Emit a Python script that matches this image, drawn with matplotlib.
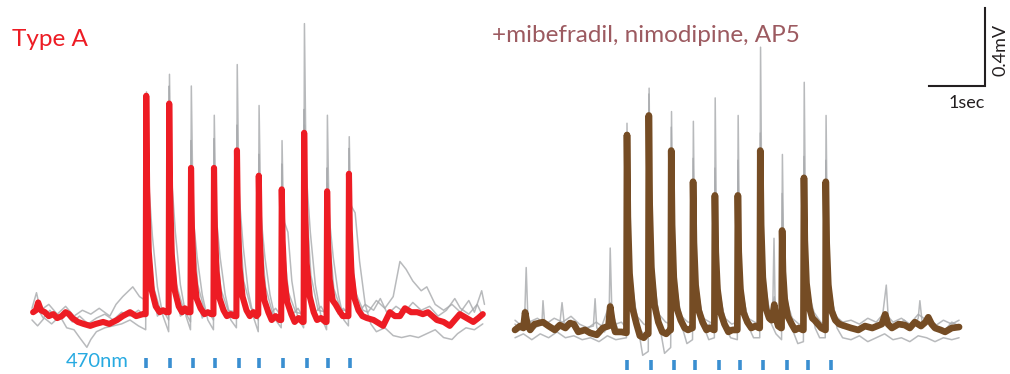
import matplotlib.pyplot as plt

# 470nm light pulses (s from start of each sweep)
STIM_LEFT = [2.04, 2.46, 2.88, 3.27, 3.70, 4.05, 4.48, 4.91, 5.29, 5.68]
STIM_RIGHT = [2.00, 2.43, 2.84, 3.21, 3.64, 4.02, 4.43, 4.86, 5.23, 5.64]

# Type A, mean trace (time s, mV)
TYPE_A_MEAN = [
    (0.02, 0.04), (0.07, 0.05), (0.11, 0.09), (0.16, 0.05), (0.23, 0.04), (0.30, 0.02), (0.38, 0.03),
    (0.45, 0.01), (0.53, 0.02), (0.60, 0.04), (0.66, 0.03), (0.72, 0.01), (0.82, -0.01), (0.92, -0.02),
    (1.04, -0.03), (1.14, -0.02), (1.27, -0.01), (1.38, -0.02), (1.52, 0.00), (1.62, 0.02), (1.75, 0.04),
    (1.86, 0.02), (1.98, 0.03),
    (2.03, 0.03), (2.04, 1.15), (2.055, 0.69), (2.085, 0.35), (2.14, 0.15), (2.21, 0.07), (2.28, 0.04), (2.34, 0.05), (2.40, 0.04),
    (2.44, 0.04), (2.45, 1.11), (2.465, 0.67), (2.495, 0.34), (2.55, 0.15), (2.62, 0.07), (2.68, 0.04), (2.73, 0.06), (2.78, 0.04),
    (2.83, 0.04), (2.84, 0.78), (2.855, 0.48), (2.885, 0.25), (2.94, 0.11), (3.01, 0.06), (3.08, 0.03), (3.14, 0.04), (3.20, 0.03),
    (3.24, 0.03), (3.25, 0.78), (3.265, 0.48), (3.295, 0.25), (3.35, 0.11), (3.42, 0.05), (3.48, 0.02), (3.55, 0.03), (3.61, 0.02),
    (3.65, 0.02), (3.66, 0.87), (3.675, 0.53), (3.705, 0.27), (3.76, 0.12), (3.83, 0.05), (3.89, 0.02), (3.95, 0.04), (4.01, 0.02),
    (4.04, 0.03), (4.05, 0.74), (4.065, 0.45), (4.095, 0.23), (4.15, 0.10), (4.22, 0.04), (4.28, 0.00), (4.35, 0.02), (4.42, 0.00),
    (4.45, 0.00), (4.46, 0.67), (4.475, 0.41), (4.505, 0.21), (4.56, 0.09), (4.63, 0.03), (4.69, -0.01), (4.76, 0.01), (4.83, -0.01),
    (4.85, -0.01), (4.86, 0.96), (4.875, 0.58), (4.905, 0.29), (4.96, 0.12), (5.03, 0.04), (5.09, 0.00), (5.16, 0.01), (5.24, -0.01),
    (5.26, -0.01), (5.27, 0.66), (5.285, 0.40), (5.315, 0.21), (5.37, 0.10), (5.42, 0.08), (5.48, 0.05), (5.55, 0.02), (5.63, 0.02),
    (5.65, 0.02), (5.66, 0.75), (5.675, 0.46), (5.705, 0.24), (5.76, 0.11), (5.83, 0.05), (5.90, 0.02),
    (5.98, 0.01), (6.10, 0.00), (6.27, -0.03), (6.39, 0.04), (6.48, 0.02), (6.57, 0.02), (6.66, 0.06), (6.77, 0.04),
    (6.88, 0.04), (6.98, 0.03), (7.07, 0.04), (7.23, 0.00), (7.35, -0.01), (7.46, -0.03), (7.55, 0.00), (7.64, 0.03),
    (7.76, 0.01), (7.88, -0.01), (7.97, 0.01), (8.05, 0.03),
]

# Type A, single sweeps
TYPE_A_SWEEP_1 = [
    (0.00, 0.06), (0.08, 0.14), (0.15, 0.05), (0.30, 0.08), (0.45, 0.03), (0.60, 0.07), (0.75, 0.02), (0.90, 0.05),
    (1.05, 0.03), (1.20, 0.06), (1.39, 0.02), (1.50, 0.08), (1.62, 0.12), (1.80, 0.17), (1.92, 0.12), (2.03, 0.10),
    (2.045, 1.17), (2.08, 0.47), (2.16, 0.18), (2.29, 0.05), (2.44, 0.05),
    (2.455, 1.26), (2.49, 0.50), (2.57, 0.19), (2.70, 0.06), (2.83, 0.04),
    (2.845, 1.20), (2.88, 0.48), (2.96, 0.18), (3.09, 0.04), (3.24, 0.03),
    (3.255, 1.05), (3.29, 0.42), (3.37, 0.16), (3.50, 0.05), (3.65, 0.04),
    (3.665, 1.31), (3.70, 0.52), (3.78, 0.20), (3.91, 0.06), (4.04, 0.04),
    (4.055, 1.10), (4.09, 0.44), (4.17, 0.17), (4.30, 0.03), (4.45, 0.02),
    (4.465, 0.92), (4.50, 0.37), (4.58, 0.14), (4.71, 0.04), (4.85, 0.03),
    (4.865, 1.52), (4.90, 0.61), (4.98, 0.23), (5.11, 0.05), (5.26, 0.04),
    (5.275, 1.05), (5.31, 0.42), (5.39, 0.16), (5.52, 0.05), (5.65, 0.05),
    (5.665, 0.94), (5.70, 0.38), (5.78, 0.14), (5.91, 0.05),
    (6.00, 0.04), (6.15, 0.10), (6.30, 0.06), (6.45, 0.12), (6.57, 0.30), (6.68, 0.26), (6.80, 0.20), (6.95, 0.15),
    (7.05, 0.17), (7.20, 0.08), (7.35, 0.05), (7.50, 0.08), (7.65, 0.04), (7.80, 0.10), (7.90, 0.04), (8.03, 0.15), (8.08, 0.08),
]
TYPE_A_SWEEP_2 = [
    (0.00, 0.03), (0.10, 0.06), (0.20, 0.01), (0.32, 0.05), (0.45, 0.00), (0.58, 0.04), (0.72, -0.01), (0.85, 0.02),
    (1.00, -0.02), (1.15, 0.01), (1.30, 0.03), (1.45, 0.00), (1.60, 0.04), (1.75, 0.02), (1.90, 0.05), (2.03, 0.02),
    (2.04, 1.16), (2.06, 0.52), (2.11, 0.21), (2.24, 0.02), (2.34, 0.05), (2.44, 0.00),
    (2.45, 1.20), (2.47, 0.54), (2.52, 0.22), (2.65, 0.02), (2.74, 0.04), (2.83, -0.01),
    (2.84, 0.92), (2.86, 0.41), (2.91, 0.17), (3.04, 0.01), (3.14, 0.05), (3.24, 0.00),
    (3.25, 0.93), (3.27, 0.42), (3.32, 0.17), (3.45, 0.02), (3.55, 0.04), (3.65, 0.01),
    (3.66, 1.00), (3.68, 0.45), (3.73, 0.18), (3.86, 0.02), (3.95, 0.05), (4.04, 0.00),
    (4.05, 0.85), (4.07, 0.38), (4.12, 0.15), (4.25, 0.03), (4.35, 0.06), (4.45, 0.02),
    (4.46, 0.80), (4.48, 0.36), (4.53, 0.14), (4.66, 0.03), (4.75, 0.06), (4.85, 0.01),
    (4.86, 1.08), (4.88, 0.49), (4.93, 0.19), (5.06, 0.04), (5.16, 0.07), (5.26, 0.02),
    (5.27, 0.78), (5.29, 0.35), (5.34, 0.14), (5.47, 0.03), (5.56, 0.06), (5.65, 0.03),
    (5.66, 0.88), (5.68, 0.40), (5.73, 0.16), (5.86, 0.05),
    (5.95, 0.08), (6.10, 0.05), (6.22, 0.11), (6.35, 0.03), (6.50, 0.07), (6.65, 0.04), (6.80, 0.09), (6.95, 0.05),
    (7.10, 0.07), (7.25, 0.02), (7.40, 0.05), (7.55, 0.11), (7.65, 0.06), (7.80, 0.03), (7.95, 0.08), (8.05, 0.02),
]
TYPE_A_SWEEP_3 = [
    (0.00, 0.00), (0.10, -0.03), (0.22, 0.01), (0.35, -0.02), (0.50, 0.02), (0.62, -0.04), (0.75, -0.05), (0.85, -0.09),
    (0.98, -0.14), (1.05, -0.10), (1.15, -0.06), (1.30, -0.04), (1.45, -0.03), (1.60, -0.02), (1.75, 0.00), (1.90, -0.03),
    (2.03, -0.05),
    (2.045, 0.95), (2.09, 0.67), (2.15, 0.43), (2.24, 0.17), (2.34, 0.02), (2.44, -0.06),
    (2.455, 1.00), (2.50, 0.70), (2.56, 0.45), (2.65, 0.18), (2.75, 0.02), (2.83, -0.05),
    (2.845, 0.70), (2.89, 0.49), (2.95, 0.32), (3.04, 0.13), (3.14, 0.00), (3.24, -0.05),
    (3.255, 0.72), (3.30, 0.50), (3.36, 0.32), (3.45, 0.13), (3.55, 0.00), (3.65, -0.04),
    (3.665, 0.85), (3.71, 0.60), (3.77, 0.38), (3.86, 0.15), (3.96, 0.01), (4.04, -0.06),
    (4.055, 0.72), (4.10, 0.50), (4.16, 0.32), (4.25, 0.13), (4.35, 0.00), (4.45, -0.04),
    (4.465, 0.65), (4.51, 0.50), (4.57, 0.45), (4.64, 0.20), (4.74, 0.02), (4.85, -0.04),
    (4.865, 1.00), (4.91, 0.70), (4.97, 0.45), (5.06, 0.18), (5.16, 0.02), (5.26, -0.05),
    (5.275, 0.70), (5.32, 0.49), (5.38, 0.32), (5.47, 0.13), (5.57, 0.00), (5.65, -0.03),
    (5.665, 0.62), (5.71, 0.58), (5.77, 0.55), (5.85, 0.30), (5.95, 0.08), (6.05, -0.02),
    (6.15, -0.06), (6.30, -0.04), (6.45, -0.08), (6.60, -0.09), (6.75, -0.08), (6.90, -0.09), (7.05, -0.07),
    (7.20, -0.05), (7.35, -0.09), (7.50, -0.10), (7.60, -0.07), (7.75, -0.04), (7.90, -0.05), (8.05, -0.02),
]

# +mibefradil, nimodipine, AP5, mean trace (time s, mV)
BLOCKER_MEAN = [
    (0.00, -0.01), (0.09, 0.01), (0.15, 0.00), (0.18, 0.08), (0.22, 0.02), (0.27, -0.01), (0.35, 0.02), (0.50, 0.03),
    (0.60, 0.01), (0.71, -0.01), (0.80, 0.015), (0.90, 0.00), (0.98, 0.025), (1.05, 0.02), (1.13, -0.02),
    (1.25, -0.01), (1.34, -0.025), (1.46, -0.035), (1.57, 0.00), (1.67, 0.01), (1.70, 0.11), (1.74, 0.03),
    (1.79, -0.02), (1.90, -0.02), (1.99, -0.025),
    (2.00, 0.99), (2.015, 0.57), (2.045, 0.28), (2.10, 0.10), (2.17, 0.02), (2.23, -0.04), (2.30, -0.05), (2.36, -0.03),
    (2.38, -0.03), (2.39, 1.09), (2.405, 0.63), (2.435, 0.31), (2.49, 0.12), (2.56, 0.03), (2.63, -0.02), (2.70, -0.03), (2.77, -0.01),
    (2.78, -0.01), (2.79, 0.91), (2.805, 0.53), (2.835, 0.26), (2.89, 0.10), (2.96, 0.04), (3.03, 0.00), (3.09, -0.01), (3.16, 0.00),
    (3.17, 0.00), (3.18, 0.75), (3.195, 0.44), (3.225, 0.22), (3.28, 0.09), (3.35, 0.03), (3.42, -0.01), (3.48, 0.00), (3.55, -0.01),
    (3.56, -0.01), (3.57, 0.68), (3.585, 0.39), (3.615, 0.20), (3.67, 0.08), (3.74, 0.02), (3.81, -0.02), (3.88, -0.01), (3.96, -0.01),
    (3.97, -0.01), (3.98, 0.68), (3.995, 0.39), (4.025, 0.20), (4.08, 0.08), (4.15, 0.03), (4.22, 0.00), (4.29, 0.01), (4.36, 0.00),
    (4.37, 0.00), (4.38, 0.91), (4.395, 0.53), (4.425, 0.26), (4.48, 0.10), (4.54, 0.05), (4.58, 0.04), (4.61, 0.08),
    (4.63, 0.12), (4.66, 0.05), (4.70, 0.01), (4.75, 0.00),
    (4.76, 0.00), (4.77, 0.50), (4.785, 0.29), (4.815, 0.15), (4.87, 0.06), (4.94, 0.02), (5.00, -0.01), (5.07, 0.00), (5.14, -0.01),
    (5.15, -0.01), (5.16, 0.77), (5.175, 0.45), (5.205, 0.23), (5.26, 0.10), (5.31, 0.05), (5.35, 0.04), (5.41, 0.02),
    (5.47, 0.00), (5.54, -0.01),
    (5.545, -0.01), (5.55, 0.75), (5.565, 0.44), (5.595, 0.22), (5.65, 0.09), (5.72, 0.04), (5.79, 0.02), (5.84, 0.015),
    (6.00, 0.00), (6.13, -0.01), (6.25, 0.01), (6.38, 0.00), (6.55, 0.02), (6.61, 0.07), (6.66, 0.02), (6.73, 0.00),
    (6.85, 0.02), (6.96, 0.015), (7.05, 0.00), (7.14, 0.03), (7.25, 0.01), (7.33, 0.03), (7.38, 0.055), (7.44, 0.02),
    (7.50, 0.00), (7.60, -0.01), (7.68, -0.02), (7.80, 0.00), (7.93, 0.005),
]

BLOCKER_SWEEP_1 = [
    (0.00, 0.02), (0.10, -0.01), (0.17, 0.03), (0.20, 0.31), (0.23, 0.05), (0.35, 0.00), (0.48, 0.02), (0.50, 0.14),
    (0.53, 0.02), (0.65, -0.01), (0.80, 0.02), (0.84, 0.13), (0.88, 0.02), (1.00, 0.04), (1.10, -0.02), (1.25, 0.00),
    (1.40, 0.01), (1.43, 0.15), (1.46, 0.00), (1.60, -0.02), (1.68, 0.05), (1.70, 0.41), (1.73, 0.08), (1.85, -0.02),
    (1.99, -0.02),
    (2.005, 1.00), (2.03, 0.35), (2.09, 0.12), (2.20, 0.00), (2.30, -0.03), (2.38, -0.02),
    (2.395, 1.23), (2.42, 0.43), (2.48, 0.15), (2.59, 0.01), (2.69, -0.02), (2.78, 0.00),
    (2.795, 1.11), (2.82, 0.39), (2.88, 0.13), (2.99, 0.02), (3.09, -0.01), (3.17, 0.01),
    (3.185, 1.06), (3.21, 0.37), (3.27, 0.13), (3.38, 0.01), (3.48, 0.02), (3.56, 0.00),
    (3.575, 1.18), (3.60, 0.41), (3.66, 0.14), (3.77, 0.01), (3.87, 0.00), (3.97, 0.01),
    (3.985, 1.09), (4.01, 0.38), (4.07, 0.13), (4.18, 0.02), (4.28, 0.00), (4.37, 0.01),
    (4.385, 1.44), (4.41, 0.50), (4.47, 0.17), (4.55, 0.04), (4.60, 0.05), (4.625, 0.46), (4.645, 0.12), (4.70, 0.02), (4.76, 0.00),
    (4.775, 0.89), (4.80, 0.31), (4.86, 0.11), (4.97, 0.00), (5.07, -0.01), (5.15, 0.00),
    (5.165, 1.26), (5.19, 0.44), (5.25, 0.15), (5.36, 0.03), (5.46, 0.01), (5.54, 0.00),
    (5.555, 1.09), (5.58, 0.38), (5.64, 0.13), (5.75, 0.02), (5.85, 0.00),
    (5.95, 0.01), (6.10, -0.02), (6.25, 0.02), (6.40, 0.00), (6.55, 0.03), (6.63, 0.22), (6.67, 0.03), (6.80, 0.01),
    (6.95, 0.04), (7.10, 0.00), (7.20, 0.05), (7.23, 0.14), (7.27, 0.03), (7.40, 0.05), (7.50, 0.02), (7.65, -0.02),
    (7.80, 0.03), (7.93, 0.01),
]
BLOCKER_SWEEP_2 = [
    (0.00, 0.04), (0.12, 0.01), (0.18, 0.10), (0.25, 0.03), (0.40, 0.05), (0.55, 0.02), (0.70, 0.05), (0.85, 0.03),
    (1.00, 0.06), (1.15, 0.02), (1.30, 0.00), (1.45, 0.03), (1.55, 0.01), (1.70, 0.13), (1.80, 0.02), (1.90, 0.03),
    (1.99, 0.00),
    (2.00, 1.05), (2.025, 0.47), (2.08, 0.21), (2.18, 0.06), (2.30, 0.02), (2.38, 0.01),
    (2.39, 1.20), (2.415, 0.54), (2.47, 0.24), (2.57, 0.07), (2.69, 0.03), (2.78, 0.02),
    (2.79, 1.03), (2.815, 0.46), (2.87, 0.21), (2.97, 0.06), (3.09, 0.03), (3.17, 0.03),
    (3.18, 0.87), (3.205, 0.39), (3.26, 0.17), (3.36, 0.05), (3.48, 0.03), (3.56, 0.02),
    (3.57, 0.82), (3.595, 0.37), (3.65, 0.16), (3.75, 0.05), (3.87, 0.02), (3.97, 0.03),
    (3.98, 0.86), (4.005, 0.39), (4.06, 0.17), (4.16, 0.05), (4.28, 0.03), (4.37, 0.02),
    (4.38, 1.00), (4.405, 0.45), (4.46, 0.20), (4.56, 0.07), (4.63, 0.16), (4.68, 0.05), (4.76, 0.03),
    (4.77, 0.69), (4.795, 0.31), (4.85, 0.14), (4.95, 0.05), (5.07, 0.02), (5.15, 0.02),
    (5.16, 0.88), (5.185, 0.40), (5.24, 0.18), (5.34, 0.08), (5.46, 0.03), (5.54, 0.02),
    (5.55, 0.86), (5.575, 0.39), (5.63, 0.17), (5.73, 0.06), (5.85, 0.03),
    (6.00, 0.04), (6.15, 0.02), (6.30, 0.05), (6.45, 0.03), (6.60, 0.08), (6.75, 0.03), (6.90, 0.05), (7.05, 0.02),
    (7.20, 0.07), (7.35, 0.04), (7.50, 0.01), (7.65, 0.04), (7.80, 0.02), (7.93, 0.04),
]
BLOCKER_SWEEP_3 = [
    (0.00, -0.05), (0.15, -0.03), (0.30, -0.06), (0.45, -0.03), (0.60, -0.05), (0.75, -0.02), (0.90, -0.05),
    (1.05, -0.04), (1.20, -0.06), (1.35, -0.05), (1.50, -0.07), (1.65, -0.04), (1.80, -0.06), (1.99, -0.05),
    (2.005, 0.85), (2.04, 0.43), (2.10, 0.21), (2.20, 0.00), (2.28, -0.14), (2.38, -0.12),
    (2.395, 0.95), (2.43, 0.48), (2.49, 0.24), (2.59, 0.00), (2.67, -0.13), (2.78, -0.10),
    (2.795, 0.80), (2.83, 0.40), (2.89, 0.20), (2.99, 0.00), (3.07, -0.08), (3.17, -0.06),
    (3.185, 0.70), (3.22, 0.35), (3.28, 0.17), (3.38, 0.00), (3.46, -0.06), (3.56, -0.05),
    (3.575, 0.65), (3.61, 0.33), (3.67, 0.16), (3.77, 0.00), (3.85, -0.05), (3.97, -0.06),
    (3.985, 0.65), (4.02, 0.33), (4.08, 0.16), (4.18, 0.00), (4.26, -0.05), (4.37, -0.05),
    (4.385, 0.80), (4.42, 0.40), (4.48, 0.20), (4.58, 0.02), (4.66, -0.03), (4.76, -0.06),
    (4.775, 0.50), (4.81, 0.25), (4.87, 0.12), (4.97, -0.02), (5.05, -0.08), (5.15, -0.07),
    (5.165, 0.70), (5.20, 0.35), (5.26, 0.17), (5.36, 0.00), (5.44, -0.05), (5.54, -0.05),
    (5.555, 0.70), (5.59, 0.35), (5.65, 0.17), (5.75, 0.00), (5.85, -0.05),
    (6.00, -0.06), (6.15, -0.04), (6.30, -0.07), (6.45, -0.05), (6.60, -0.03), (6.75, -0.06), (6.90, -0.05),
    (7.05, -0.07), (7.20, -0.04), (7.35, -0.05), (7.50, -0.07), (7.65, -0.05), (7.80, -0.06), (7.93, -0.05),
]

TITLE_LEFT = "Type A"
TITLE_RIGHT = "+mibefradil, nimodipine, AP5"

# layout: 56 px per second, 195 px per mV
W, H = 1010, 374
PX_S, PX_MV = 56.0, 195.0
LEFT_T0, RIGHT_T0 = 32 / PX_S, 515 / PX_S
RIGHT_DY = -8 / PX_MV

RED = "#ed1c24"
BROWN = "#754c24"
GREY = "#a7a9ac"
BLUE = "#3a8fd1"


def draw(ax, pts, t0, dy, **kw):
    t = [p[0] + t0 for p in pts]
    v = [p[1] + dy for p in pts]
    ax.plot(t, v, solid_joinstyle="round", solid_capstyle="round", **kw)


def ftext(fig, x, y, s, **kw):
    fig.text(x / W, 1 - y / H, s, **kw)


def main():
    plt.rcParams["font.family"] = ["Lato", "DejaVu Sans"]
    fig = plt.figure(figsize=(W / 100, H / 100), dpi=100)
    ax = fig.add_axes([0, 0, 1, 1])
    ax.set_xlim(0, W / PX_S)
    ax.set_ylim(-(H - 320) / PX_MV, 320 / PX_MV)
    ax.axis("off")

    for sw in (TYPE_A_SWEEP_1, TYPE_A_SWEEP_2, TYPE_A_SWEEP_3):
        draw(ax, sw, LEFT_T0, 0, color=GREY, lw=1.1, alpha=0.8)
    draw(ax, TYPE_A_MEAN, LEFT_T0, 0, color=RED, lw=4.4)

    for sw in (BLOCKER_SWEEP_1, BLOCKER_SWEEP_2, BLOCKER_SWEEP_3):
        draw(ax, sw, RIGHT_T0, RIGHT_DY, color=GREY, lw=1.1, alpha=0.8)
    draw(ax, BLOCKER_MEAN, RIGHT_T0, RIGHT_DY, color=BROWN, lw=4.8)

    # light pulses
    ax.vlines([LEFT_T0 + t for t in STIM_LEFT], -0.246, -0.195, colors=BLUE, lw=2.6)
    ax.vlines([RIGHT_T0 + t for t in STIM_RIGHT], -0.215 + RIGHT_DY, -0.164 + RIGHT_DY,
              colors=BLUE, lw=2.6)

    # scale bar: 1 s, 0.4 mV
    x1 = 985 / PX_S
    y0 = (320 - 86) / PX_MV
    ax.plot([x1 - 1.0, x1, x1], [y0, y0, y0 + 0.4], color="#231f20", lw=1.5,
            solid_joinstyle="miter")
    ftext(fig, 967, 108, "1sec", fontsize=13, color="#231f20", ha="center", va="baseline")
    ftext(fig, 1001, 50, "0.4mV", fontsize=13, color="#231f20", rotation=90,
          ha="center", va="center")

    ftext(fig, 12, 46, TITLE_LEFT, fontsize=17.5, color=RED, ha="left", va="baseline")
    ftext(fig, 492, 42, TITLE_RIGHT, fontsize=17.5, color="#9c5a60", ha="left", va="baseline")
    ftext(fig, 66, 367, "470nm", fontsize=14.5, color="#27aae1", ha="left", va="baseline")

    fig.savefig("out.png", dpi=100)


if __name__ == "__main__":
    main()
